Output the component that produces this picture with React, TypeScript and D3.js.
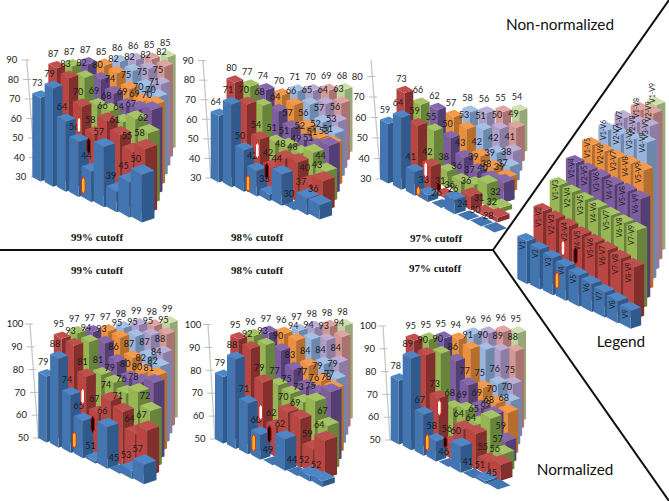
import React from "react";
import * as d3 from "d3";

// rows[r][i]: r = 0 is V1..V9, r = 1 is V1-V2..V8-V9, ... r = 8 is V1-V9
const raw99 = [
  [73, 79, 64, 56, 44, 57, 39, 45, 50],
  [87, 83, 70, 58, 66, 61, 55, 58],
  [87, 82, 69, 68, 64, 67, 62],
  [87, 80, 74, 69, 69, 70],
  [85, 82, 75, 70, 70],
  [86, 82, 75, 71],
  [86, 82, 75],
  [85, 82],
  [85],
];
const raw98 = [
  [64, 71, 50, 42, 33, 44, 30, 37, 36],
  [80, 70, 54, 42, 48, 48, 40, 43],
  [77, 68, 51, 51, 49, 51, 44],
  [74, 64, 57, 52, 51, 53],
  [70, 66, 56, 52, 51],
  [71, 65, 57, 53],
  [70, 64, 56],
  [69, 63],
  [68],
];
const raw97 = [
  [59, 64, 41, 33, 26, 36, 24, 30, 28],
  [73, 59, 42, 31, 26, 36, 31, 32],
  [66, 55, 38, 36, 37, 40, 32],
  [62, 50, 43, 39, 38, 39],
  [57, 53, 42, 39, 37],
  [58, 51, 42, 38],
  [56, 50, 41],
  [55, 49],
  [54],
];
const norm99 = [
  [79, 88, 74, 65, 51, 66, 45, 53, 57],
  [95, 93, 81, 67, 74, 71, 64, 67],
  [97, 94, 81, 79, 76, 78, 72],
  [97, 93, 86, 80, 80, 81],
  [97, 95, 87, 82, 82],
  [98, 95, 87, 84],
  [99, 95, 88],
  [98, 95],
  [99],
];
const norm98 = [
  [79, 88, 71, 60, 49, 62, 44, 52, 52],
  [95, 92, 79, 62, 70, 69, 59, 64],
  [96, 93, 77, 75, 73, 75, 67],
  [97, 90, 83, 77, 76, 78],
  [96, 94, 84, 79, 77],
  [97, 94, 84, 79],
  [98, 93, 84],
  [98, 94],
  [98],
];
const norm97 = [
  [78, 89, 67, 58, 46, 60, 41, 51, 45],
  [95, 90, 73, 56, 64, 64, 55, 56],
  [95, 90, 68, 69, 65, 69, 57],
  [95, 86, 77, 69, 68, 59],
  [94, 91, 75, 70, 68],
  [96, 90, 76, 70],
  [96, 89, 75],
  [96, 88],
  [95],
];
const legendHeights = [
  [43, 40, 37, 34, 31, 28, 25, 22, 18],
  [69, 67, 65, 62, 60, 58, 55, 52],
  [91, 89, 87, 85, 83, 81, 79],
  [109, 107, 106, 104, 103, 101],
  [123, 122, 121, 121, 120],
  [134, 135, 136, 138],
  [142, 143, 145],
  [146, 148],
  [147],
];
const legendNames = [
  ["V1", "V2", "V3", "V4", "V5", "V6", "V7", "V8", "V9"],
  ["V1-V2", "V2-V3", "V3-V4", "V4-V5", "V5-V6", "V6-V7", "V7-V8", "V8-V9"],
  ["V1-V3", "V2-V4", "V3-V5", "V4-V6", "V5-V7", "V6-V8", "V7-V9"],
  ["V1-V4", "V2-V5", "V3-V6", "V4-V7", "V5-V8", "V6-V9"],
  ["V1-V5", "V2-V6", "V3-V7", "V4-V8", "V5-V9"],
  ["V1-V6", "V2-V7", "V3-V8", "V4-V9"],
  ["V1-V7", "V2-V8", "V3-V9"],
  ["V1-V8", "V2-V9"],
  ["V1-V9"],
];
const legendLabelDy = [6, 8, 7, 7, 5, 2, 5, 0, -10];

const leftFaces = ["#4375B0", "#BA4643", "#97B653", "#7B5DA0", "#E98F3E", "#98B4DC", "#AE9FC9", "#D49793", "#BFD49A"];
const rightFaces = ["#305A8C", "#832F2E", "#67843A", "#533E75", "#B56E2E", "#6E88AB", "#8C7DA5", "#A87370", "#96A877"];
const topFaces = ["#4F86C6", "#C0504D", "#A6C464", "#8669AC", "#F39A4C", "#A6C0E4", "#BCAED4", "#DEA5A2", "#CEE0AB"];

const ticksRaw = [30, 40, 50, 60, 70, 80, 90];
const ticks97 = [30, 40, 50, 60, 70, 80];
const ticksNorm = [50, 60, 70, 80, 90, 100];

type Mark = { kind: string; dx: number; hi: number; lo: number };
const marks99: Mark[] = [
  { kind: "white", dx: 46.7, hi: 60.3, lo: 53 },
  { kind: "dark", dx: 56.4, hi: 49.5, lo: 42.3 },
  { kind: "gold", dx: 51, hi: 29.5, lo: 21.8 },
];
const marks98: Mark[] = [
  { kind: "white", dx: 46.6, hi: 47.7, lo: 40.4 },
  { kind: "dark", dx: 56, hi: 37.2, lo: 29.8 },
  { kind: "gold", dx: 37.3, hi: 31, lo: 23.5 },
];
const marks97: Mark[] = [
  { kind: "white", dx: 45.7, hi: 38.1, lo: 31.1 },
  { kind: "dark", dx: 58.7, hi: 28, lo: 24.3 },
  { kind: "gold", dx: 38.3, hi: 26, lo: 22.2 },
];
const marksN99: Mark[] = [
  { kind: "white", dx: 44.4, hi: 71.5, lo: 65.2 },
  { kind: "dark", dx: 54.4, hi: 59.1, lo: 52.8 },
  { kind: "gold", dx: 36, hi: 52.3, lo: 45.9 },
];
const marksN98: Mark[] = [
  { kind: "white", dx: 45.7, hi: 64.8, lo: 58.6 },
  { kind: "dark", dx: 54.3, hi: 55.4, lo: 48.8 },
  { kind: "gold", dx: 38.7, hi: 51.7, lo: 44.9 },
];
const marksN97: Mark[] = [
  { kind: "white", dx: 48.6, hi: 67.2, lo: 61 },
  { kind: "dark", dx: 54.6, hi: 51.2, lo: 46.8 },
  { kind: "gold", dx: 36.6, hi: 52.2, lo: 45.6 },
];
const marksLegend: Mark[] = [
  { kind: "white", dx: 45.7, hi: 38, lo: 24 },
  { kind: "dark", dx: 58.4, hi: 31, lo: 16 },
  { kind: "gold", dx: 39.7, hi: 6, lo: -9 },
];

const captions = [
  { text: "99% cutoff", x: 97, y: 237 },
  { text: "98% cutoff", x: 257, y: 237 },
  { text: "97% cutoff", x: 436, y: 238 },
  { text: "99% cutoff", x: 97, y: 270 },
  { text: "98% cutoff", x: 257, y: 270 },
  { text: "97% cutoff", x: 435, y: 268 },
];
const headings = [
  { text: "Non-normalized", x: 560, y: 25 },
  { text: "Legend", x: 621, y: 342 },
  { text: "Normalized", x: 575, y: 470 },
];

type Panel = {
  rows: number[][];
  min: number;
  ticks: number[];
  axisTopValue: number;
  ox: number; oy: number;
  ux: number; uy: number;
  vx: number; vy: number;
  hs: number;
  axisX0: number; axisX1: number;
  marks: Mark[];
};

const panels: Panel[] = [
  { rows: raw99, min: 30, ticks: ticksRaw, axisTopValue: 90, ox: 32.3, oy: 177, ux: 12.3, uy: 4.9, vx: 16, vy: -3.9, hs: 1.95, axisX0: 35.7, axisX1: 26.7, marks: marks99 },
  { rows: raw98, min: 30, ticks: ticksRaw, axisTopValue: 90, ox: 210.7, oy: 178, ux: 12.2, uy: 4.4, vx: 15.8, vy: -3.5, hs: 1.957, axisX0: 210.7, axisX1: 203, marks: marks98 },
  { rows: raw97, min: 30, ticks: ticks97, axisTopValue: 88, ox: 380, oy: 179, ux: 12.9, uy: 5.9, vx: 16.5, vy: -3.7, hs: 2.05, axisX0: 380.7, axisX1: 371, marks: marks97 },
  { rows: norm99, min: 50, ticks: ticksNorm, axisTopValue: 100, ox: 38.3, oy: 438, ux: 11.8, uy: 5, vx: 15.5, vy: -2.8, hs: 2.28, axisX0: 38.3, axisX1: 30, marks: marksN99 },
  { rows: norm98, min: 50, ticks: ticksNorm, axisTopValue: 100, ox: 215, oy: 439, ux: 12, uy: 5.2, vx: 15.3, vy: -2.8, hs: 2.29, axisX0: 215, axisX1: 208, marks: marksN98 },
  { rows: norm97, min: 50, ticks: ticksNorm, axisTopValue: 100, ox: 390.7, oy: 440, ux: 12, uy: 5.4, vx: 15, vy: -2.8, hs: 2.28, axisX0: 390, axisX1: 383, marks: marksN97 },
];

const LABEL_FONT = "Lato, 'Open Sans', sans-serif";
const poly = d3.line<[number, number]>().x((d) => d[0]).y((d) => d[1]);
const closed = (pts: [number, number][]) => (poly(pts) ?? "") + "Z";

function Bar(props: {
  x: number; y: number; h: number; f: number; c: number;
  a: [number, number]; b: [number, number];
}) {
  const { x, y, h, f, c, a, b } = props;
  const L: [number, number] = [x, y];
  const F: [number, number] = [x + a[0] * f, y + a[1] * f];
  const R: [number, number] = [F[0] + b[0] * f, F[1] + b[1] * f];
  const B: [number, number] = [x + b[0] * f, y + b[1] * f];
  const up = (p: [number, number]): [number, number] => [p[0], p[1] - h];
  return (
    <g>
      {h > 0 && <path d={closed([L, F, up(F), up(L)])} fill={leftFaces[c]} />}
      {h > 0 && <path d={closed([F, R, up(R), up(F)])} fill={rightFaces[c]} />}
      <path d={closed([up(L), up(F), up(R), up(B)])} fill={h > 0 ? topFaces[c] : leftFaces[c]} />
    </g>
  );
}

function Marker({ m, x, y0, y1 }: { m: Mark; x: number; y0: number; y1: number }) {
  const fill = m.kind === "white" ? "#FFFFFF" : m.kind === "dark" ? "#1A0808" : "#F6B81E";
  const stroke = m.kind === "dark" ? "#A01818" : "#D83020";
  const hw = 1.8;
  const pts: [number, number][] = [
    [x, y0 - 1.2], [x + hw, y0 + 2], [x + hw, y1 - 2], [x, y1 + 1.2], [x - hw, y1 - 2], [x - hw, y0 + 2],
  ];
  return <path d={closed(pts)} fill={fill} stroke={stroke} strokeWidth={1} />;
}

function Chart({ p }: { p: Panel }) {
  const yOf = d3.scaleLinear().domain([p.min, p.min + 1]).range([p.oy, p.oy - p.hs]);
  const axisX = d3.scaleLinear().domain([p.min, p.axisTopValue]).range([p.axisX0, p.axisX1]);
  const order: { i: number; r: number }[] = [];
  for (let r = p.rows.length - 1; r >= 0; r--) p.rows[r].forEach((_, i) => order.push({ i, r }));
  const geo = (i: number, r: number) => {
    const v = p.rows[r][i];
    const hf = 1 + 0.028 * i - 0.017 * r;
    return {
      x: p.ox + i * p.ux + r * p.vx,
      y: p.oy + i * p.uy + r * p.vy,
      h: Math.max(0, (v - p.min) * p.hs * hf),
      f: 1 + 0.05 * i - 0.012 * r,
      v,
    };
  };
  return (
    <g>
      <line x1={p.axisX0} y1={yOf(p.min)} x2={p.axisX1} y2={yOf(p.axisTopValue)} stroke="#C8C8C8" strokeWidth={1.3} />
      {p.ticks.map((t) => (
        <g key={t}>
          <line x1={axisX(t) - 5} x2={axisX(t) + 3} y1={yOf(t)} y2={yOf(t)} stroke="#BDBDBD" strokeWidth={1} />
          <text x={axisX(t) - 15} y={yOf(t)} dy="0.34em" textAnchor="middle" fontSize={9.5} fontFamily={LABEL_FONT} fill="#222">{t}</text>
        </g>
      ))}
      {order.map(({ i, r }) => {
        const g = geo(i, r);
        return <Bar key={`${r}-${i}`} x={g.x} y={g.y} h={g.h} f={g.f} c={r} a={[8, 4.5]} b={[9, -3]} />;
      })}
      {order.map(({ i, r }) => {
        const g = geo(i, r);
        return (
          <text key={`t${r}-${i}`} x={g.x + 5} y={g.y - g.h - 10} dy="0.34em" textAnchor="middle" fontSize={9} fontFamily={LABEL_FONT} fill="#1c1c1c">{g.v}</text>
        );
      })}
      {p.marks.map((m) => (
        <Marker key={m.kind} m={m} x={p.ox + m.dx} y0={yOf(m.hi)} y1={yOf(m.lo)} />
      ))}
    </g>
  );
}

function LegendChart() {
  const ox = 517.3, oy = 279, ux = 12.8, uy = 5.5, vx = 16.2, vy = -4;
  const yOf = d3.scaleLinear().domain([0, 1]).range([oy, oy - 1]);
  const order: { i: number; r: number }[] = [];
  for (let r = legendHeights.length - 1; r >= 0; r--) legendHeights[r].forEach((_, i) => order.push({ i, r }));
  const at = (i: number, r: number) => ({
    x: ox + i * ux + r * vx,
    y: oy + i * uy + r * vy,
    h: legendHeights[r][i],
  });
  return (
    <g>
      {order.map(({ i, r }) => {
        const g = at(i, r);
        return <Bar key={`${r}-${i}`} x={g.x} y={g.y} h={g.h} f={1 + 0.02 * i} c={r} a={[9.5, 5]} b={[9, -3]} />;
      })}
      {order.map(({ i, r }) => {
        const g = at(i, r);
        const lx = g.x + 5.5;
        const ly = g.y - g.h + legendLabelDy[r] + 3;
        return (
          <text key={`t${r}-${i}`} x={lx} y={ly} transform={`rotate(-90 ${lx} ${ly})`} dy="0.34em" textAnchor="middle" fontSize={7} fontFamily={LABEL_FONT} fill="#222">{legendNames[r][i]}</text>
        );
      })}
      {marksLegend.map((m) => (
        <Marker key={m.kind} m={m} x={ox + m.dx} y0={yOf(m.hi)} y1={yOf(m.lo)} />
      ))}
    </g>
  );
}

export default function App() {
  return (
    <svg width={669} height={501} viewBox="0 0 669 501" style={{ position: "absolute", left: 0, top: 0, background: "#fff" }}>
      {panels.map((p, k) => <Chart key={k} p={p} />)}
      <LegendChart />
      <path d="M0,250 L493,250 L669,0 M493,250 L669,501" fill="none" stroke="#111" strokeWidth={2} />
      {captions.map((c, k) => (
        <text key={k} x={c.x} y={c.y} dy="0.34em" textAnchor="middle" fontSize={11} fontWeight="bold" fontFamily="'Liberation Serif', serif" fill="#111">{c.text}</text>
      ))}
      {headings.map((c, k) => (
        <text key={k} x={c.x} y={c.y} dy="0.34em" textAnchor="middle" fontSize={15.3} fontFamily={LABEL_FONT} fill="#111">{c.text}</text>
      ))}
    </svg>
  );
}
